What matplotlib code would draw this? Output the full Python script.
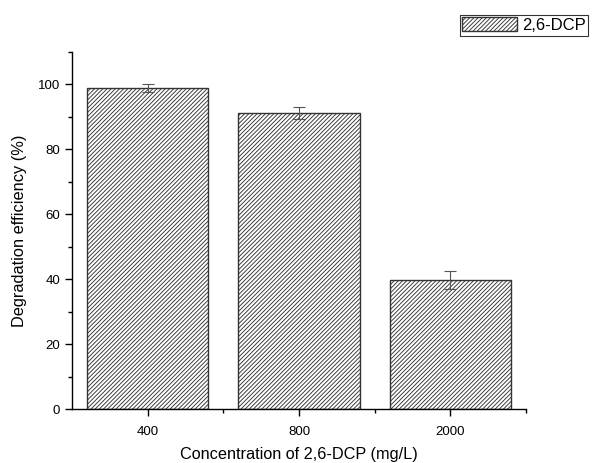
import matplotlib
matplotlib.use("Agg")
import matplotlib.pyplot as plt
from matplotlib.ticker import MultipleLocator, FixedLocator

plt.rcParams['font.family'] = ['Liberation Sans', 'DejaVu Sans']
plt.rcParams['hatch.linewidth'] = 0.65
plt.rcParams['hatch.color'] = '#5a5a5a'

# 降解效率数据
concentrations = ["400", "800", "2000"]
efficiency = [99.0, 91.2, 39.8]
errors = [1.2, 1.8, 2.8]

fig = plt.figure(figsize=(5.93, 4.63), dpi=100)
ax = fig.add_axes([0.1214, 0.1166, 0.7656, 0.771])

pos = [1, 2, 3]
ax.bar(pos, efficiency, width=0.8, color='white', edgecolor='#333333',
       linewidth=1.0, hatch='////////', label="2,6-DCP",
       yerr=errors, error_kw=dict(ecolor='#555555', elinewidth=0.8, capsize=4, capthick=0.8))

ax.set_xlim(0.5, 3.5)
ax.set_ylim(0, 110)
ax.set_xticks(pos)
ax.set_xticklabels(concentrations)
ax.xaxis.set_minor_locator(FixedLocator([1.5, 2.5, 3.5]))
ax.yaxis.set_major_locator(FixedLocator([0, 20, 40, 60, 80, 100]))
ax.yaxis.set_minor_locator(MultipleLocator(10))
ax.tick_params(which='major', direction='out', length=5, width=1, labelsize=9.5)
ax.tick_params(which='minor', direction='out', length=3, width=1)
ax.tick_params(axis='x', pad=7)

for s in ['top', 'right']:
    ax.spines[s].set_visible(False)
for s in ['left', 'bottom']:
    ax.spines[s].set_linewidth(1.0)

ax.set_xlabel("Concentration of 2,6-DCP (mg/L)", fontsize=11.7, labelpad=7)
ax.set_ylabel("Degradation efficiency (%)", fontsize=11.8, labelpad=8)

leg = fig.legend(loc='upper right', bbox_to_anchor=(0.998, 0.975), fontsize=12,
                 frameon=True, fancybox=False, edgecolor='black',
                 handlelength=3.3, handleheight=0.9, borderpad=0.15,
                 handletextpad=0.3, borderaxespad=0.2)
leg.get_frame().set_linewidth(0.8)

fig.savefig("out.png", dpi=100)
